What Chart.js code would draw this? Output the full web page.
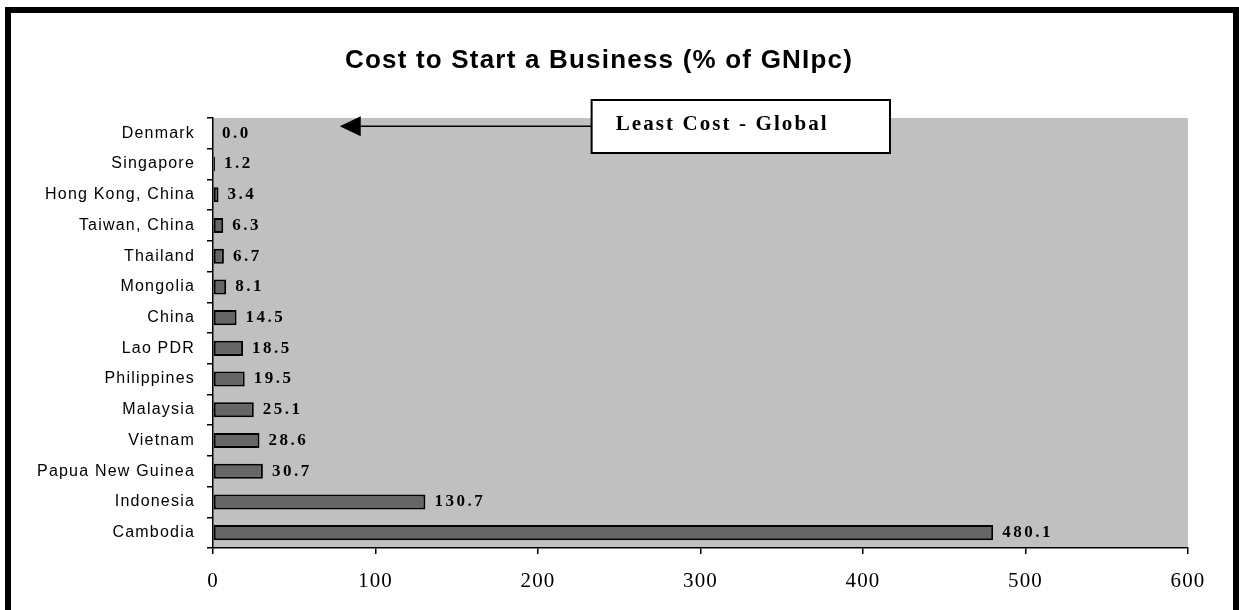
<!DOCTYPE html>
<html>
<head>
<meta charset="utf-8">
<script src="https://cdn.jsdelivr.net/npm/chart.js@4/dist/chart.umd.min.js"></script>
<style>
  html, body { margin: 0; padding: 0; background: #fff; }
  #wrap { width: 1239px; height: 610px; position: relative; }
</style>
</head>
<body>
<div id="wrap"><canvas id="c" width="1239" height="610"></canvas></div>
<script>
const categories = ["Denmark", "Singapore", "Hong Kong, China", "Taiwan, China", "Thailand", "Mongolia", "China", "Lao PDR", "Philippines", "Malaysia", "Vietnam", "Papua New Guinea", "Indonesia", "Cambodia"];
const values = [0.0, 1.2, 3.4, 6.3, 6.7, 8.1, 14.5, 18.5, 19.5, 25.1, 28.6, 30.7, 130.7, 480.1];
const xTicks = [0, 100, 200, 300, 400, 500, 600];
const titleText = "Cost to Start a Business (% of GNIpc)";
const annotationText = "Least Cost - Global";
const annotationArrowTip = 78;     // value-axis position of the arrow tip
const annotationBoxFrom = 233;     // value-axis position of box left edge
const annotationBoxTo = 416.6;     // value-axis position of box right edge

const framePlugin = {
  id: 'frame',
  beforeDraw(chart) {
    const ctx = chart.ctx, a = chart.chartArea;
    ctx.save();
    ctx.fillStyle = '#fff';
    ctx.fillRect(0, 0, chart.width, chart.height);
    ctx.fillStyle = '#C0C0C0';
    ctx.fillRect(a.left, a.top, a.right - a.left, a.bottom - a.top);
    ctx.restore();
    try { ctx.letterSpacing = '1.2px'; } catch (e) {}
  },
  afterDraw(chart) {
    const ctx = chart.ctx;
    ctx.save();
    ctx.fillStyle = '#000';
    ctx.fillRect(5, 7, 1234, 6);
    ctx.fillRect(5, 7, 6, 603);
    ctx.fillRect(1233, 7, 6, 603);
    ctx.restore();
  }
};

const labelPlugin = {
  id: 'barLabels',
  afterDatasetsDraw(chart) {
    const ctx = chart.ctx;
    const meta = chart.getDatasetMeta(0);
    ctx.save();
    ctx.font = 'bold 17px "Liberation Serif", "Times New Roman", serif';
    ctx.fillStyle = '#000';
    ctx.textAlign = 'left';
    ctx.textBaseline = 'middle';
    try { ctx.letterSpacing = '2.5px'; } catch (e) {}
    meta.data.forEach((bar, i) => {
      ctx.fillText(values[i].toFixed(1), bar.x + 9, bar.y);
    });
    ctx.restore();
  }
};

const annotationPlugin = {
  id: 'annot',
  afterDraw(chart) {
    const ctx = chart.ctx;
    const xs = chart.scales.x, ys = chart.scales.y;
    const yLine = ys.getPixelForValue(0) - 7;
    const tip = xs.getPixelForValue(annotationArrowTip);
    const bl = xs.getPixelForValue(annotationBoxFrom);
    const br = xs.getPixelForValue(annotationBoxTo);
    const bt = chart.chartArea.top - 18;
    const bb = bt + 53;
    ctx.save();
    ctx.strokeStyle = '#000';
    ctx.lineWidth = 1.5;
    ctx.beginPath();
    ctx.moveTo(tip + 18, yLine);
    ctx.lineTo(bl, yLine);
    ctx.stroke();
    ctx.fillStyle = '#000';
    ctx.beginPath();
    ctx.moveTo(tip, yLine);
    ctx.lineTo(tip + 21, yLine - 10);
    ctx.lineTo(tip + 21, yLine + 10);
    ctx.closePath();
    ctx.fill();
    ctx.fillStyle = '#fff';
    ctx.fillRect(bl, bt, br - bl, bb - bt);
    ctx.lineWidth = 2;
    ctx.strokeRect(bl, bt, br - bl, bb - bt);
    ctx.fillStyle = '#000';
    ctx.font = 'bold 21px "Liberation Serif", "Times New Roman", serif';
    ctx.textAlign = 'left';
    ctx.textBaseline = 'middle';
    try { ctx.letterSpacing = '2.1px'; } catch (e) {}
    ctx.fillText(annotationText, bl + 24, bt + 25);
    ctx.restore();
  }
};

new Chart(document.getElementById('c'), {
  type: 'bar',
  data: {
    labels: categories,
    datasets: [{
      data: values,
      backgroundColor: '#666666',
      borderColor: '#000',
      borderWidth: 2,
      borderSkipped: false,
      barPercentage: 0.49,
      categoryPercentage: 1.0
    }]
  },
  options: {
    indexAxis: 'y',
    responsive: false,
    animation: false,
    devicePixelRatio: 1,
    layout: { padding: { left: 10, right: 51, top: 0, bottom: 22 } },
    plugins: {
      legend: { display: false },
      tooltip: { enabled: false },
      title: {
        display: true,
        text: titleText,
        color: '#000',
        font: { family: '"Liberation Sans", Arial, sans-serif', size: 26, weight: 'bold' },
        padding: { top: 45.4, bottom: 41.4 }
      }
    },
    scales: {
      x: {
        min: 0, max: 600,
        afterBuildTicks(scale) { scale.ticks = xTicks.map(v => ({ value: v })); },
        afterFit(scale) { scale.height = 40; },
        border: { display: true, color: '#000', width: 1.5 },
        grid: { display: true, drawOnChartArea: false, drawTicks: true, tickLength: 6, color: '#000', lineWidth: 1.5 },
        ticks: {
          color: '#000',
          padding: 15,
          font: { family: '"Liberation Serif", "Times New Roman", serif', size: 21 }
        }
      },
      y: {
        afterFit(scale) { scale.width = 203; },
        border: { display: true, color: '#000', width: 1.5 },
        grid: { display: true, offset: true, drawOnChartArea: false, drawTicks: true, tickLength: 6, color: '#000', lineWidth: 1.5 },
        ticks: {
          color: '#000',
          padding: 12,
          autoSkip: false,
          font: { family: '"Liberation Sans", Arial, sans-serif', size: 16 }
        }
      }
    }
  },
  plugins: [framePlugin, labelPlugin, annotationPlugin]
});
</script>
</body>
</html>
